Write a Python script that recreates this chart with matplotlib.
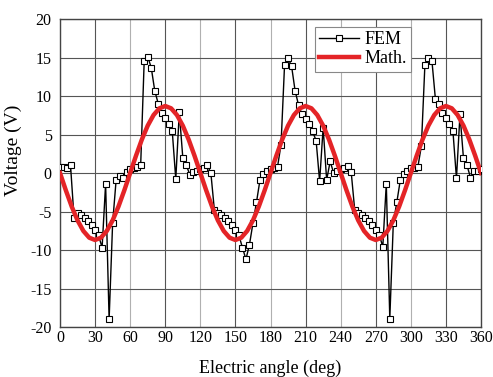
import numpy as np
import matplotlib
matplotlib.use("Agg")
import matplotlib.pyplot as plt

plt.rcParams['font.family'] = ['Liberation Serif', 'DejaVu Serif']
plt.rcParams['axes.unicode_minus'] = False

# FEM result, sampled every 3 deg (0..360)
fem_angle = np.arange(0, 361, 3)
fem_volt = [
    0.8, 0.8, 0.7, 1.0, -5.8, -5.2, -5.5, -5.9, -6.2, -6.7, -7.4, -8.1, -9.7, -1.4, -19.0, -6.5, -0.9, -0.4, -0.65, 0.1, 0.5,
    0.7, 0.8, 1.1, 14.6, 15.1, 13.7, 10.7, 9.0, 7.8, 7.2, 6.3, 5.4, -0.8, 7.9, 2.0, 1.0, -0.2, 0.1, 0.3, 0.5,
    0.7, 1.0, 0.0, -4.8, -5.2, -5.5, -5.9, -6.2, -6.7, -7.4, -8.1, -9.7, -11.2, -9.3, -6.5, -3.8, -0.9, -0.1, 0.2, 0.5,
    0.6, 0.8, 3.7, 14.0, 14.9, 13.9, 10.7, 8.8, 7.6, 7.0, 6.4, 5.4, 4.2, -1.1, 5.9, -0.9, 1.5, 0.0, 0.2, 0.5,
    0.7, 0.9, 0.1, -4.8, -5.2, -5.5, -5.9, -6.2, -6.7, -7.4, -8.0, -9.6, -1.4, -18.9, -6.5, -3.8, -0.9, -0.1, 0.3, 0.6,
    0.6, 0.8, 3.5, 14.0, 14.9, 14.6, 9.6, 8.9, 7.8, 7.1, 6.4, 5.4, -0.7, 7.6, 1.9, 1.0, -0.6, 0.2, 0.3, 0.5,
]

# analytical curve, read every 5 deg
math_angle = np.arange(0, 361, 5)
math_volt = [
    0.0, -2.25, -4.35, -6.15, -7.53, -8.4, -8.7, -8.4, -7.53, -6.15, -4.35, -2.25,
    0.0, 2.25, 4.35, 6.15, 7.53, 8.4, 8.7, 8.4, 7.53, 6.15, 4.35, 2.25,
    0.0, -2.25, -4.35, -6.15, -7.53, -8.4, -8.7, -8.4, -7.53, -6.15, -4.35, -2.25,
    0.0, 2.25, 4.35, 6.15, 7.53, 8.4, 8.7, 8.4, 7.53, 6.15, 4.35, 2.25,
    0.0, -2.25, -4.35, -6.15, -7.53, -8.4, -8.7, -8.4, -7.53, -6.15, -4.35, -2.25,
    0.0, 2.25, 4.35, 6.15, 7.53, 8.4, 8.7, 8.4, 7.53, 6.15, 4.35, 2.25,
    0.0,
]

x_ticks = list(range(0, 361, 30))
y_ticks = list(range(-20, 21, 5))

fig = plt.figure(figsize=(4.93, 3.77), dpi=100)
ax = fig.add_axes([0.1217, 0.1326, 0.854, 0.817])

ax.plot(fem_angle, fem_volt, color='black', lw=1.0, marker='s', ms=4.2,
        mfc='white', mec='black', mew=0.8, label='FEM', zorder=3)
ax.plot(math_angle, math_volt, color='#e42427', lw=3.2, label='Math.',
        solid_joinstyle='round', zorder=4)

ax.set_xlim(0, 360)
ax.set_ylim(-20, 20)
ax.set_xticks(x_ticks)
ax.set_yticks(y_ticks)
ax.tick_params(direction='in', length=0, labelsize=11.5)
ax.tick_params(axis='x', pad=2)
ax.tick_params(axis='y', pad=6)

ax.grid(True, color='#555555', lw=0.8)
for val, gl in zip(x_ticks, ax.get_xgridlines()):
    if val % 60 == 0:
        gl.set_color('#b0b0b0')
ax.set_axisbelow(True)
for s in ax.spines.values():
    s.set_color('#444444')
    s.set_linewidth(1.0)

ax.set_xlabel('Electric angle (deg)', fontsize=13, labelpad=10)
ax.set_ylabel('Voltage (V)', fontsize=14)
ax.yaxis.set_label_coords(-0.09, 0.575)

leg = ax.legend(loc='upper right', bbox_to_anchor=(0.834, 0.975),
                borderaxespad=0, fancybox=False, fontsize=13,
                handlelength=2.2, handletextpad=0.3, borderpad=0.25,
                labelspacing=0.1, framealpha=1)
leg.get_frame().set_edgecolor('#888888')
leg.get_frame().set_linewidth(0.8)

fig.savefig('out.png', dpi=100)
